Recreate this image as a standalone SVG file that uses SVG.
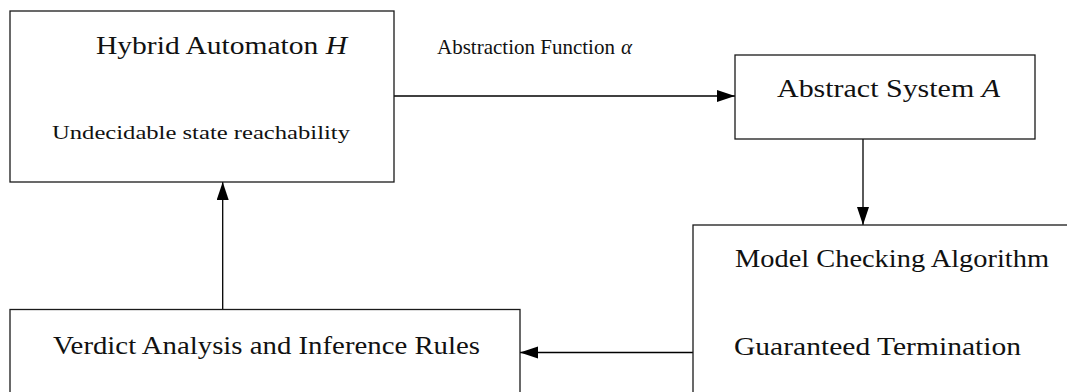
<svg xmlns="http://www.w3.org/2000/svg" width="1067" height="392" viewBox="0 0 1067 392">
  <style>
    .box { fill: #ffffff; stroke: #1a1a1a; stroke-width: 1.3; }
    .edge { fill: none; stroke: #000000; stroke-width: 1.3; }
    .t { font-family: "Liberation Serif", "DejaVu Serif", serif; fill: #111111; }
    .big { font-size: 25px; }
    .mid { font-size: 21px; }
    .small { font-size: 19px; }
    .it { font-style: italic; }
  </style>
  <defs>
    <marker id="arrow" markerUnits="userSpaceOnUse" markerWidth="20" markerHeight="14" refX="18" refY="6" orient="auto">
      <path d="M0,0 L18,6 L0,12 Z" fill="#000000"/>
    </marker>
  </defs>

  <rect width="1067" height="392" fill="#ffffff"/>

  <!-- connectors -->
  <g id="connectors">
    <line class="edge" x1="394" y1="96" x2="735" y2="96" marker-end="url(#arrow)"/>
    <line class="edge" x1="863" y1="139" x2="863" y2="225" marker-end="url(#arrow)"/>
    <line class="edge" x1="693" y1="352.5" x2="520" y2="352.5" marker-end="url(#arrow)"/>
    <line class="edge" x1="222.7" y1="309.5" x2="222.7" y2="182" marker-end="url(#arrow)"/>
    <!-- edge label for the abstraction step -->
    <text class="t mid" x="437" y="54">Abstraction Function</text>
    <text class="t mid it" x="621" y="54">α</text>
  </g>

  <!-- hybrid automaton -->
  <g id="node-hybrid">
    <rect class="box" x="10" y="11" width="384" height="171"/>
    <text class="t big" x="96" y="54" textLength="251" lengthAdjust="spacingAndGlyphs">Hybrid Automaton <tspan class="it">H</tspan></text>
    <text class="t small" x="52" y="138.5" textLength="298" lengthAdjust="spacingAndGlyphs">Undecidable state reachability</text>
  </g>

  <!-- abstract system -->
  <g id="node-abstract">
    <rect class="box" x="735" y="55" width="300" height="84"/>
    <text class="t big" x="777" y="97" textLength="223" lengthAdjust="spacingAndGlyphs">Abstract System <tspan class="it">A</tspan></text>
  </g>

  <!-- model checking -->
  <g id="node-model-checking">
    <rect class="box" x="693" y="225" width="400" height="200"/>
    <text class="t big" x="735" y="267" textLength="314" lengthAdjust="spacingAndGlyphs">Model Checking Algorithm</text>
    <text class="t big" x="734" y="355" textLength="287" lengthAdjust="spacingAndGlyphs">Guaranteed Termination</text>
  </g>

  <!-- verdict analysis -->
  <g id="node-verdict">
    <rect class="box" x="10" y="309.5" width="510" height="120"/>
    <text class="t big" x="53" y="354" textLength="427" lengthAdjust="spacingAndGlyphs">Verdict Analysis and Inference Rules</text>
  </g>
</svg>
